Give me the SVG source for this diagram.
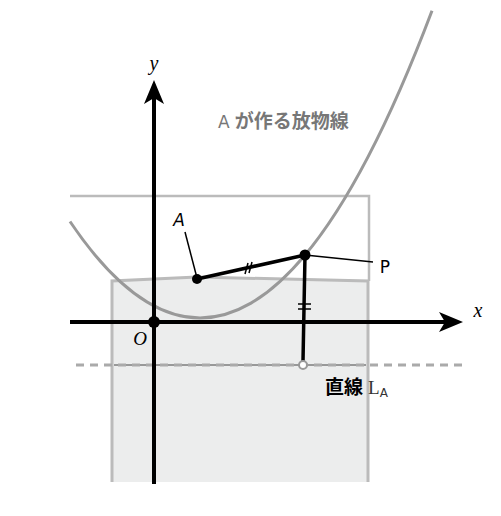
<svg xmlns="http://www.w3.org/2000/svg" width="501" height="516" viewBox="0 0 501 516">
<style>
.frame{fill:none;stroke:#bbbbbb;stroke-width:2.5}
.region{fill:#eceded;stroke:#bbbbbb;stroke-width:3}
.curve{fill:none;stroke:#999999;stroke-width:3}
.axis{stroke:#000;stroke-width:4;fill:none}
.seg{stroke:#000;stroke-width:3.5;fill:none;stroke-linecap:round}
.thin{stroke:#000;stroke-width:1.5;fill:none}
.dot{fill:#000}
.lbl{font-family:"DejaVu Sans","Noto Sans",sans-serif;fill:#000}
.math{font-family:"Liberation Serif","DejaVu Serif",serif;font-style:italic;fill:#000}
.jp{font-family:"Noto Sans CJK JP",sans-serif;font-weight:bold}
</style>
<defs>
<marker id="arr" markerUnits="userSpaceOnUse" markerWidth="26" markerHeight="22" refX="6" refY="10" orient="auto">
<path d="M0,0 L24,10 L0,20 L6,10 Z" fill="#000"/>
</marker>
</defs>
<g id="frame">
<polyline class="frame" points="70,196 369,196 369,281"/>
</g>
<g id="region">
<path class="region" d="M112,484 L112,281 L197,277 L368,281 L368,484"/>
<rect x="110" y="482" width="260" height="4" fill="#ffffff"/>
</g>
<g id="parabola">
<path class="curve" d="M70,221.5 Q251,490.2 432,10.7"/>
</g>
<g id="lineLA">
<line x1="114" y1="365" x2="366" y2="365" stroke="#444" stroke-width="1"/>
<line x1="76" y1="365" x2="466" y2="365" stroke="#aaaaaa" stroke-width="3" stroke-dasharray="8 6"/>
</g>
<g id="axes">
<line class="axis" x1="70" y1="322" x2="445" y2="322" marker-end="url(#arr)"/>
<line class="axis" x1="154" y1="484" x2="154" y2="98" marker-end="url(#arr)"/>
<text class="math" x="478" y="317" font-size="20" text-anchor="middle">x</text>
<text class="math" x="154" y="70" font-size="20" text-anchor="middle">y</text>
</g>
<g id="connectors">
<line class="seg" x1="197" y1="279" x2="305" y2="255"/>
<line class="seg" x1="305" y1="255" x2="303" y2="361"/>
<line class="thin" x1="185" y1="232" x2="197" y2="278"/>
<line class="thin" x1="305" y1="255" x2="373" y2="262"/>
<line class="thin" x1="245" y1="274" x2="248" y2="263"/>
<line class="thin" x1="249" y1="273" x2="252" y2="262"/>
<line class="thin" x1="298" y1="304" x2="311" y2="304"/>
<line class="thin" x1="298" y1="309" x2="311" y2="309"/>
</g>
<g id="origin">
<circle class="dot" cx="154" cy="322" r="6"/>
<text class="math" x="140" y="345" font-size="19" text-anchor="middle">O</text>
</g>
<g id="pointA">
<circle class="dot" cx="197" cy="279" r="5"/>
<text class="lbl" x="179" y="226" font-size="17" font-style="italic" text-anchor="middle">A</text>
</g>
<g id="pointP">
<circle class="dot" cx="305" cy="255" r="5.5"/>
<text class="lbl" x="385" y="273" font-size="17" text-anchor="middle">P</text>
</g>
<g id="foot">
<circle cx="303" cy="365" r="4" fill="#fff" stroke="#999" stroke-width="2"/>
</g>
<g id="labelLA">
<text x="325" y="394" font-size="19"><tspan class="jp" fill="#000">直線</tspan><tspan font-family="Liberation Serif,serif" fill="#333" font-size="19" dx="5">L</tspan><tspan font-family="DejaVu Sans,sans-serif" fill="#333" font-size="12" dy="3">A</tspan></text>
</g>
<g id="title">
<text x="218" y="128" font-size="19" fill="#777777"><tspan font-family="DejaVu Sans,sans-serif" font-size="17">A</tspan><tspan class="jp" dx="5">が作る放物線</tspan></text>
</g>
</svg>
